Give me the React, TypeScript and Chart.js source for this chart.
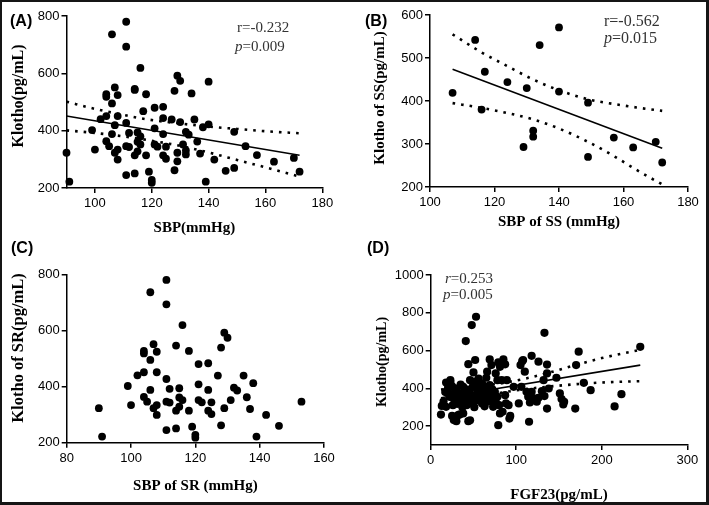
import React, { useEffect, useRef } from "react";
import { Chart, registerables } from "chart.js";
Chart.register(...registerables);

// ---------- Panel B: SBP of SS vs Klotho of SS ----------
const ssSbp = [107, 114, 117, 116, 124, 130, 134, 140, 140, 132, 132, 129, 149, 149, 157, 163, 170, 172];
const ssKlotho = [419, 542, 468, 380, 444, 430, 530, 571, 422, 331, 317, 293, 396, 270, 315, 292, 305, 257];

// ---------- Panel C: SBP of SR vs Klotho of SR ----------
const srSbp = [90, 91, 99, 100, 102, 104, 104, 104, 104, 105, 106, 106, 106, 107, 107, 108, 108, 108, 108,
  111, 111, 111, 111, 111, 112, 112, 114, 114, 114, 115, 115, 115, 116, 116, 118, 118, 119, 120, 120,
  121, 121, 121, 122, 124, 124, 124, 125, 125, 127, 128, 128, 129, 129, 130, 131, 132, 133, 135, 136,
  137, 138, 139, 142, 146, 153];
const srKlotho = [323, 222, 402, 334, 440, 527, 518, 451, 363, 346, 736, 495, 388, 551, 323, 524, 451, 334, 299,
  780, 693, 427, 346, 245, 392, 343, 546, 251, 314, 394, 361, 328, 619, 352, 527, 314, 257, 228, 218,
  480, 408, 352, 344, 483, 388, 314, 344, 302, 439, 539, 262, 592, 323, 574, 352, 396, 386, 439, 362,
  320, 412, 222, 299, 260, 346];

// ---------- Panel A: all patients (SS + SR) ----------
const allSbp = [...ssSbp, ...srSbp];
const allKlotho = [...ssKlotho, ...srKlotho];

// ---------- Panel D: FGF23 vs Klotho ----------
const fgf23 = [12, 13, 18, 18, 20, 23, 23, 22, 26, 27, 25, 30, 32, 34, 38, 44, 46,
  29, 30, 32, 34, 36, 38, 38, 40, 42, 43, 45, 46, 48, 49, 50, 52, 53, 54, 56, 57, 59, 60, 62, 64, 65, 66, 67, 69, 70,
  73, 75, 76, 78, 80, 81, 84, 87, 88, 91, 93, 79, 73,
  41, 48, 53, 44, 52, 50, 69, 71, 66, 76, 79, 81, 85, 87, 78, 83, 89, 60, 56,
  97, 103, 105, 107, 110, 112, 114, 118, 117, 116, 115, 118, 122, 124, 126, 126, 130, 132, 133, 133, 136, 136, 136, 138,
  147, 151, 153, 155, 156,
  169, 170, 173, 179, 187, 215, 223, 245,
  106, 108, 92,
  15, 17, 20, 24, 25, 27, 31, 35, 37, 41, 44, 47, 51, 55, 58, 63, 68, 72];
const klothoD = [261, 307, 302, 431, 420, 443, 429, 355, 311, 232, 254, 226, 258, 262, 267, 226, 231,
  382, 399, 355, 337, 373, 408, 329, 364, 311, 346, 382, 443, 346, 408, 329, 435, 364, 396, 337, 426, 373, 320, 399, 355, 456, 329, 382, 417, 337,
  355, 382, 329, 355, 311, 267, 276, 364, 320, 311, 254, 205, 302,
  650, 735, 779, 528, 550, 484, 553, 523, 488, 479, 537, 514, 553, 527, 443, 443, 443, 426, 452,
  408, 320, 523, 544, 488, 382, 355, 382, 360, 325, 223, 572, 346, 329, 541, 350, 385, 443, 694, 359, 526, 479, 293, 399,
  456, 373, 343, 315, 329,
  293, 523, 594, 429, 390, 304, 369, 620,
  408, 550, 240,
  330, 380, 395, 370, 410, 345, 318, 420, 300, 395, 318, 365, 300, 410, 345, 305, 360, 395];

// ---------- Regression lines and 95% bands ----------
const fitAx = [90, 172];
const fitAy = [451, 314];
const bandAx = [90, 100, 110, 118, 130, 140, 150, 160, 172];
const bandAup = [501, 476, 455, 440, 425, 414, 406, 398, 391];
const bandAlo = [401, 392, 380, 368, 347, 324, 298, 272, 240];

const fitBx = [107, 172];
const fitBy = [474, 290];
const bandBx = [107, 116, 124, 132, 140, 149, 157, 164, 172];
const bandBup = [555, 513, 481, 450, 425, 404, 393, 385, 377];
const bandBlo = [395, 384, 372, 357, 336, 305, 272, 240, 206];

const fitDx = [12, 245];
const fitDy = [350, 523];
const bandDx = [12, 40, 60, 85, 110, 140, 170, 200, 245];
const bandDup = [394, 404, 414, 429, 451, 485, 524, 560, 604];
const bandDlo = [306, 337, 358, 379, 395, 410, 422, 431, 438];

// ---------- Tick labels ----------
const ticksAx = [100, 120, 140, 160, 180];
const ticksAy = [200, 400, 600, 800];
const ticksBx = [100, 120, 140, 160, 180];
const ticksBy = [200, 300, 400, 500, 600];
const ticksCx = [80, 100, 120, 140, 160];
const ticksCy = [200, 400, 600, 800];
const ticksDx = [0, 100, 200, 300];
const ticksDy = [200, 400, 600, 800, 1000];

const pts = (xs: number[], ys: number[]) => xs.map((x, i) => ({ x, y: ys[i] }));

const scatterSet = (xs: number[], ys: number[], r: number) => ({
  data: pts(xs, ys),
  backgroundColor: "#000",
  borderWidth: 0,
  pointRadius: r,
  pointHoverRadius: r,
  showLine: false,
  clip: false as any,
});
const fitSet = (xs: number[], ys: number[]) => ({
  data: pts(xs, ys),
  showLine: true,
  borderColor: "#000",
  borderWidth: 1.6,
  pointRadius: 0,
  pointHoverRadius: 0,
  clip: false as any,
});
const bandSet = (xs: number[], ys: number[]) => ({
  data: pts(xs, ys),
  showLine: true,
  borderColor: "#000",
  borderWidth: 2.6,
  borderDash: [2.6, 6],
  pointRadius: 0,
  pointHoverRadius: 0,
  cubicInterpolationMode: "monotone" as const,
  clip: false as any,
});

type Note = { x: number; y: number; size: number; parts: { t: string; it?: boolean }[] };
type Spec = {
  left: number; top: number; w: number; h: number;
  area: { l: number; t: number; r: number; b: number };
  xMin: number; xMax: number; yMin: number; yMax: number;
  xTicks: number[]; yTicks: number[];
  xTitle: string; xTitleOffset: number;
  yTitle: string; yTitleX: number; yTitleY: number; yTitleSize: number;
  label: string; labelX: number; labelY: number;
  notes: Note[];
  datasets: any[];
};

const specs: Spec[] = [
  {
    left: 0, top: 0, w: 354, h: 250,
    area: { l: 66.5, t: 16, r: 322.3, b: 188 },
    xMin: 90, xMax: 180, yMin: 200, yMax: 800, xTicks: ticksAx, yTicks: ticksAy,
    xTitle: "SBP(mmHg)", xTitleOffset: 22,
    yTitle: "Klotho(pg/mL)", yTitleX: 19, yTitleY: 96, yTitleSize: 16,
    label: "(A)", labelX: 10, labelY: 22,
    notes: [
      { x: 237, y: 28, size: 15, parts: [{ t: "r=-0.232" }] },
      { x: 235, y: 47, size: 15, parts: [{ t: "p", it: true }, { t: "=0.009" }] },
    ],
    datasets: [fitSet(fitAx, fitAy), bandSet(bandAx, bandAup), bandSet(bandAx, bandAlo), scatterSet(allSbp, allKlotho, 3.9)],
  },
  {
    left: 354, top: 0, w: 355, h: 250,
    area: { l: 76, t: 15, r: 334, b: 187 },
    xMin: 100, xMax: 180, yMin: 200, yMax: 600, xTicks: ticksBx, yTicks: ticksBy,
    xTitle: "SBP of SS (mmHg)", xTitleOffset: 27.5,
    yTitle: "Klotho of SS(pg/mL)", yTitleX: 26, yTitleY: 98, yTitleSize: 15,
    label: "(B)", labelX: 11, labelY: 22,
    notes: [
      { x: 250, y: 21.5, size: 16, parts: [{ t: "r=-0.562" }] },
      { x: 250, y: 38.5, size: 16, parts: [{ t: "p", it: true }, { t: "=0.015" }] },
    ],
    datasets: [fitSet(fitBx, fitBy), bandSet(bandBx, bandBup), bandSet(bandBx, bandBlo), scatterSet(ssSbp, ssKlotho, 3.9)],
  },
  {
    left: 0, top: 235, w: 354, h: 270,
    area: { l: 66.7, t: 39.3, r: 324, b: 207.7 },
    xMin: 80, xMax: 160, yMin: 200, yMax: 800, xTicks: ticksCx, yTicks: ticksCy,
    xTitle: "SBP of SR (mmHg)", xTitleOffset: 19,
    yTitle: "Klotho of SR(pg/mL)", yTitleX: 18.5, yTitleY: 113, yTitleSize: 16.5,
    label: "(C)", labelX: 11, labelY: 13.5,
    notes: [],
    datasets: [scatterSet(srSbp, srKlotho, 3.9)],
  },
  {
    left: 354, top: 235, w: 355, h: 270,
    area: { l: 76.7, t: 40, r: 333.3, b: 210 },
    xMin: 0, xMax: 300, yMin: 100, yMax: 1000, xTicks: ticksDx, yTicks: ticksDy,
    xTitle: "FGF23(pg/mL)", xTitleOffset: 9.7,
    yTitle: "Klotho(pg/mL)", yTitleX: 28.5, yTitleY: 127, yTitleSize: 14,
    label: "(D)", labelX: 13, labelY: 14,
    notes: [
      { x: 91, y: 44.3, size: 15, parts: [{ t: "r", it: true }, { t: "=0.253" }] },
      { x: 89, y: 60, size: 15, parts: [{ t: "p", it: true }, { t: "=0.005" }] },
    ],
    datasets: [fitSet(fitDx, fitDy), bandSet(bandDx, bandDup), bandSet(bandDx, bandDlo), scatterSet(fgf23, klothoD, 4.1)],
  },
];

function makeTextPlugin(s: Spec) {
  return {
    id: "panelText" + s.label,
    afterDraw(chart: any) {
      const ctx = chart.ctx as CanvasRenderingContext2D;
      ctx.save();
      ctx.fillStyle = "#000";
      ctx.textBaseline = "middle";
      ctx.textAlign = "left";
      ctx.font = 'bold 16px "Liberation Sans", Arial, sans-serif';
      ctx.fillText(s.label, s.labelX, s.labelY);

      ctx.save();
      ctx.translate(s.yTitleX, s.yTitleY);
      ctx.rotate(-Math.PI / 2);
      ctx.textAlign = "center";
      ctx.font = `bold ${s.yTitleSize}px "Liberation Serif", "Times New Roman", serif`;
      ctx.fillText(s.yTitle, 0, 0);
      ctx.restore();

      ctx.fillStyle = "#333";
      ctx.textAlign = "left";
      for (const n of s.notes) {
        let x = n.x;
        for (const p of n.parts) {
          ctx.font = `${p.it ? "italic " : ""}${n.size}px "Liberation Serif", "Times New Roman", serif`;
          ctx.fillText(p.t, x, n.y);
          x += ctx.measureText(p.t).width;
        }
      }
      ctx.restore();
    },
  };
}

function Panel({ s }: { s: Spec }) {
  const ref = useRef<HTMLCanvasElement>(null);
  useEffect(() => {
    const axisCommon = {
      type: "linear" as const,
      grid: { drawOnChartArea: false, drawTicks: true, tickLength: 5, color: "#000", lineWidth: 1.5 },
      border: { color: "#000", width: 1.5 },
    };
    const chart = new Chart(ref.current!, {
      type: "scatter",
      data: { datasets: s.datasets },
      plugins: [makeTextPlugin(s)],
      options: {
        responsive: false,
        animation: false,
        devicePixelRatio: 1,
        events: [],
        layout: {
          autoPadding: false,
          padding: { left: 0, top: s.area.t, right: s.w - s.area.r, bottom: 0 },
        },
        plugins: { legend: { display: false }, tooltip: { enabled: false } },
        scales: {
          x: {
            ...axisCommon,
            min: s.xMin,
            max: s.xMax,
            afterBuildTicks: (sc: any) => { sc.ticks = s.xTicks.map((v) => ({ value: v })); },
            afterFit: (sc: any) => { sc.height = s.h - s.area.b; },
            ticks: {
              color: "#000", padding: 3, maxRotation: 0, autoSkip: false,
              font: { size: 13, family: '"Liberation Sans", Arial, sans-serif' },
              callback: (v: any) => String(v),
            },
            title: {
              display: true, text: s.xTitle, color: "#000",
              font: { size: 15, weight: "bold", family: '"Liberation Serif", "Times New Roman", serif', lineHeight: 1.2 },
              padding: { top: 0, bottom: s.xTitleOffset - 9 },
            },
          },
          y: {
            ...axisCommon,
            min: s.yMin,
            max: s.yMax,
            afterBuildTicks: (sc: any) => { sc.ticks = s.yTicks.map((v) => ({ value: v })); },
            afterFit: (sc: any) => { sc.width = s.area.l; },
            ticks: {
              color: "#000", padding: 2, autoSkip: false,
              font: { size: 13, family: '"Liberation Sans", Arial, sans-serif' },
              callback: (v: any) => String(v),
            },
            title: { display: false },
          },
        },
      } as any,
    });
    return () => chart.destroy();
  }, []);
  return (
    <canvas
      ref={ref}
      width={s.w}
      height={s.h}
      style={{ position: "absolute", left: s.left, top: s.top, width: s.w, height: s.h }}
    />
  );
}

export default function App() {
  return (
    <div style={{ position: "fixed", left: 0, top: 0, width: 709, height: 505, background: "#fff", overflow: "hidden" }}>
      {specs.map((s) => (
        <Panel key={s.label} s={s} />
      ))}
      <div
        style={{
          position: "absolute", left: 0, top: 0, width: 709, height: 505, boxSizing: "border-box",
          borderStyle: "solid", borderColor: "#151515", borderWidth: "2px 3px 3px 2px", pointerEvents: "none",
        }}
      />
    </div>
  );
}
